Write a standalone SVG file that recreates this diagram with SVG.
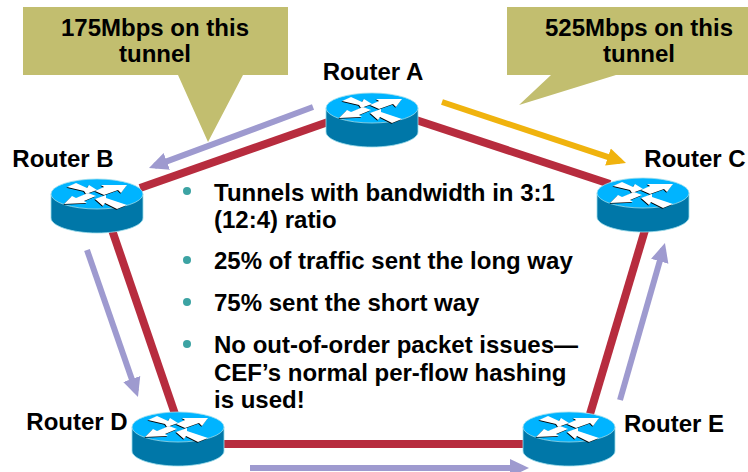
<svg xmlns="http://www.w3.org/2000/svg" width="748" height="472" viewBox="0 0 748 472">
<style>
text{font-family:"Liberation Sans",Arial,sans-serif;font-weight:700;fill:#000;font-size:24px}
.mid{text-anchor:middle}
.link{stroke:#B72C3E;stroke-width:8;fill:none}
.call{fill:#C2BE6F}
.dot{fill:#3CA3A3}
.shadow{fill:#000}
.white{fill:#fff}
.tp{stroke:#9E9ACF;stroke-width:6;fill:none;marker-end:url(#mp)}
.ty{stroke:#F0B30E;stroke-width:6;fill:none;marker-end:url(#my)}
</style>
<defs>
<marker id="mp" markerUnits="userSpaceOnUse" markerWidth="22" markerHeight="24" refX="13" refY="12" orient="auto"><path d="M0 3L19 12L0 21z" fill="#9E9ACF"/></marker>
<marker id="my" markerUnits="userSpaceOnUse" markerWidth="22" markerHeight="24" refX="13" refY="12" orient="auto"><path d="M0 3L19 12L0 21z" fill="#F0B30E"/></marker>
<g id="router">
<path d="M-46 0V24C-46 32-25 39 0 39S46 32 46 24V0z" fill="#0077A8" stroke="#9ADCEB" stroke-width=".8"/>
<ellipse cx="0" cy="0" rx="46" ry="15" fill="#00B4FF" stroke="#9ADCEB" stroke-width=".8"/>
<g class="shadow" transform="translate(-.7,.7)">
<path d="M-30-7L-21-11L-10-6L-8-9L0-4L-11 0L-13-3z"/>
<path d="M-2-3L7-7L4-9L30-9L24-1L21-4L7 1z"/>
<path d="M-33 10L-25 2L-21 4L-9-1L-1 2L-13 7L-10 9z"/>
<path d="M-2 5L9 1L9 4L30 11L20 15L8 9L6 12z"/>
</g>
<g class="white">
<path d="M-30-7L-21-11L-10-6L-8-9L0-4L-11 0L-13-3z"/>
<path d="M-2-3L7-7L4-9L30-9L24-1L21-4L7 1z"/>
<path d="M-33 10L-25 2L-21 4L-9-1L-1 2L-13 7L-10 9z"/>
<path d="M-2 5L9 1L9 4L30 11L20 15L8 9L6 12z"/>
</g>
</g>
</defs>
<rect width="748" height="472" fill="#fff"/>
<g id="connectors">
<path class="link" d="M328 122L140 188"/>
<path class="link" d="M416 120L610 184"/>
<path class="link" d="M112 230L175 414"/>
<path class="link" d="M645 230L590 414"/>
<path class="link" d="M222 444H525"/>
<path class="tp" d="M313 107L154.6 165.9"/>
<path class="ty" d="M442 102L620.3 161.1"/>
<path class="tp" d="M87 250L136 391.3"/>
<path class="tp" d="M620 400L663.3 248.8"/>
<path class="tp" d="M250 468H523"/>
</g>
<g id="callout-left">
<path class="call" d="M23 7H288V75H243L208 142L178 75H23z"/>
<text class="mid" x="155" y="36">175Mbps on this</text>
<text class="mid" x="155" y="62">tunnel</text>
</g>
<g id="callout-right">
<path class="call" d="M507 7H748V75H616L519 105L551 75H507z"/>
<text class="mid" x="639" y="36">525Mbps on this</text>
<text class="mid" x="639" y="62">tunnel</text>
</g>
<g id="router-a"><use href="#router" x="372" y="108"/><text class="mid" x="373" y="80">Router A</text></g>
<g id="router-b"><use href="#router" x="97" y="194"/><text class="mid" x="63" y="167">Router B</text></g>
<g id="router-c"><use href="#router" x="643" y="193"/><text class="mid" x="695" y="167">Router C</text></g>
<g id="router-d"><use href="#router" x="178" y="427"/><text class="mid" x="77" y="430">Router D</text></g>
<g id="router-e"><use href="#router" x="569" y="427"/><text class="mid" x="674" y="432">Router E</text></g>
<g id="bullets">
<circle class="dot" cx="187" cy="191" r="4"/>
<circle class="dot" cx="187" cy="260" r="4"/>
<circle class="dot" cx="187" cy="302" r="4"/>
<circle class="dot" cx="187" cy="344" r="4"/>
<text x="214" y="201">Tunnels with bandwidth in 3:1</text>
<text x="214" y="228">(12:4) ratio</text>
<text x="214" y="269">25% of traffic sent the long way</text>
<text x="214" y="311">75% sent the short way</text>
<text x="214" y="353">No out-of-order packet issues—</text>
<text x="214" y="381">CEF’s normal per-flow hashing</text>
<text x="214" y="408">is used!</text>
</g>
</svg>
